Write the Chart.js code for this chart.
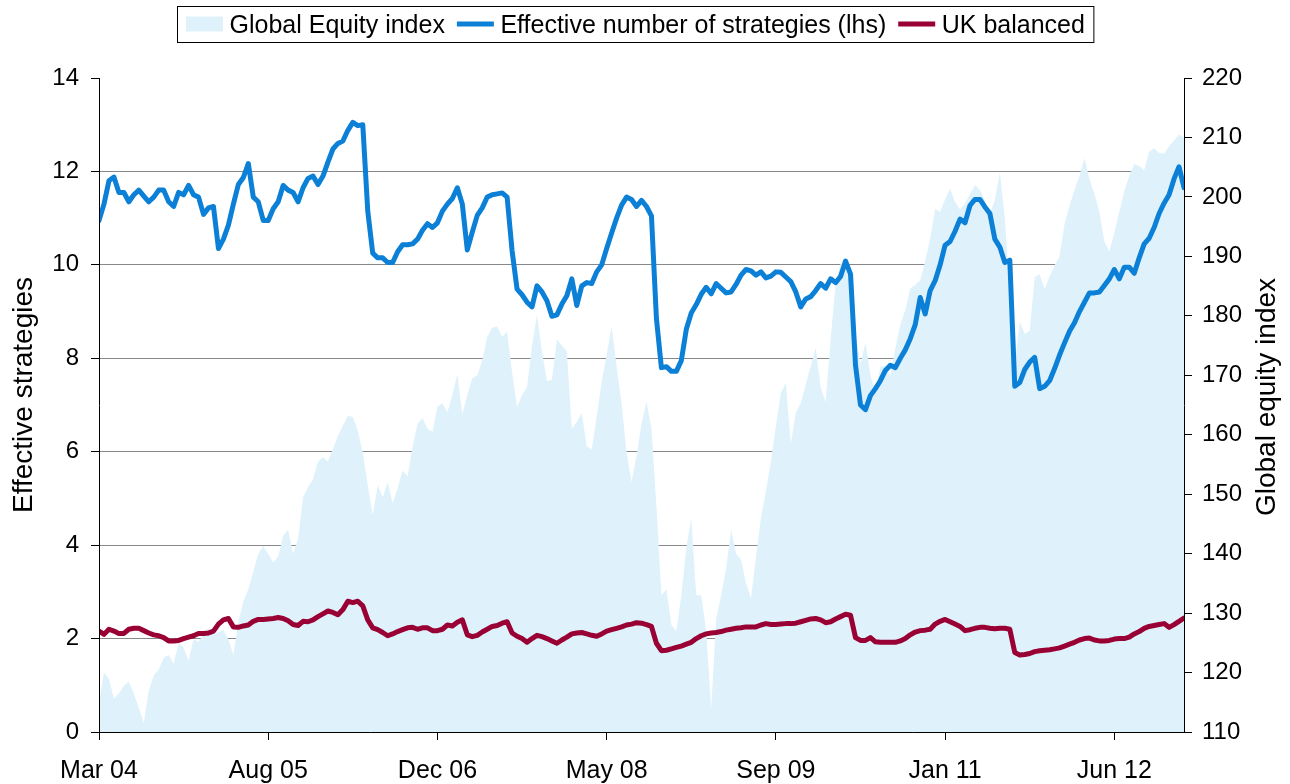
<!DOCTYPE html>
<html><head><meta charset="utf-8">
<script src="https://cdn.jsdelivr.net/npm/chart.js@4.4.1/dist/chart.umd.min.js"></script>
<style>html,body{margin:0;padding:0;background:#fff;} canvas{display:block;}</style>
</head><body>
<canvas id="c" width="1290" height="784"></canvas>
<script>
// ---- data ----
const tickLabels = ['Mar 04','Aug 05','Dec 06','May 08','Sep 09','Jan 11','Jun 12'];
const labelStep = 34; // observations between labelled ticks

const effective = [
10.95,11.3,11.8,11.88,11.55,11.55,11.35,11.5,11.6,11.47,
11.35,11.45,11.6,11.6,11.35,11.25,11.55,11.5,11.7,11.5,
11.45,11.08,11.22,11.25,10.35,10.55,10.85,11.3,11.72,11.87,
12.17,11.45,11.35,10.95,10.95,11.2,11.35,11.7,11.6,11.55,
11.35,11.65,11.85,11.9,11.72,11.9,12.2,12.48,12.6,12.65,
12.88,13.05,12.98,13.0,11.15,10.25,10.15,10.15,10.05,10.05,
10.28,10.43,10.43,10.45,10.55,10.74,10.88,10.8,10.9,11.15,
11.3,11.42,11.65,11.3,10.32,10.7,11.06,11.22,11.45,11.5,
11.52,11.54,11.45,10.3,9.48,9.36,9.2,9.1,9.55,9.42,
9.23,8.9,8.93,9.16,9.34,9.7,9.13,9.55,9.62,9.6,
9.85,10.0,10.35,10.68,11.0,11.28,11.45,11.4,11.25,11.38,
11.25,11.05,8.85,7.8,7.82,7.72,7.72,7.95,8.62,8.97,
9.15,9.37,9.52,9.38,9.6,9.5,9.4,9.42,9.58,9.78,
9.9,9.87,9.78,9.85,9.72,9.76,9.85,9.84,9.74,9.64,
9.42,9.1,9.27,9.32,9.45,9.6,9.5,9.7,9.62,9.75,
10.08,9.8,7.85,7.0,6.9,7.2,7.35,7.52,7.74,7.85,
7.8,8.0,8.18,8.42,8.72,9.3,8.95,9.45,9.66,10.0,
10.42,10.5,10.72,10.98,10.9,11.27,11.4,11.4,11.24,11.1,
10.55,10.38,10.05,10.1,7.4,7.48,7.76,7.92,8.02,7.35,
7.4,7.52,7.78,8.07,8.33,8.58,8.76,9.0,9.2,9.4,
9.4,9.42,9.56,9.7,9.9,9.7,9.95,9.95,9.82,10.15,
10.45,10.57,10.8,11.1,11.32,11.5,11.84,12.1,11.65
];

const ukBalanced = [
2.16,2.09,2.2,2.16,2.11,2.11,2.2,2.22,2.22,2.17,
2.12,2.08,2.06,2.02,1.95,1.95,1.96,2.0,2.03,2.06,
2.11,2.11,2.12,2.16,2.31,2.4,2.43,2.25,2.24,2.27,
2.29,2.37,2.41,2.41,2.42,2.43,2.45,2.43,2.38,2.3,
2.28,2.37,2.36,2.4,2.47,2.53,2.59,2.56,2.51,2.62,
2.8,2.77,2.8,2.7,2.4,2.23,2.19,2.13,2.06,2.1,
2.15,2.19,2.23,2.24,2.2,2.23,2.23,2.17,2.17,2.2,
2.29,2.27,2.35,2.4,2.08,2.04,2.07,2.14,2.2,2.26,
2.28,2.33,2.36,2.12,2.05,2.0,1.92,2.0,2.07,2.04,
2.0,1.95,1.9,1.97,2.03,2.1,2.12,2.13,2.1,2.07,
2.05,2.1,2.16,2.19,2.22,2.25,2.29,2.31,2.34,2.33,
2.3,2.26,1.9,1.74,1.75,1.78,1.81,1.84,1.88,1.92,
2.0,2.06,2.1,2.12,2.13,2.15,2.18,2.2,2.22,2.23,
2.25,2.25,2.25,2.29,2.32,2.3,2.3,2.31,2.32,2.32,
2.33,2.36,2.39,2.42,2.43,2.4,2.34,2.36,2.42,2.47,
2.52,2.5,2.02,1.96,1.96,2.02,1.93,1.92,1.92,1.92,
1.92,1.95,2.0,2.08,2.14,2.17,2.18,2.2,2.31,2.37,
2.41,2.36,2.31,2.26,2.17,2.19,2.22,2.24,2.24,2.22,
2.21,2.22,2.22,2.2,1.7,1.65,1.66,1.68,1.72,1.74,
1.75,1.76,1.78,1.8,1.84,1.88,1.92,1.97,2.0,2.01,
1.97,1.95,1.95,1.96,1.99,2.0,2.0,2.03,2.1,2.15,
2.22,2.26,2.28,2.3,2.32,2.24,2.3,2.37,2.44
];

const globalEquity = [
115,120,119,115.6,116.5,117.8,118.5,116.5,114,111.5,
117,119.5,120.5,122.5,123,121.5,125,124.2,122,125.6,
125.2,126.5,127.5,126.5,126.8,127.1,125.5,123,128.5,132,
134,137,140,141.3,140,138.5,139.5,143,144,140,
142.5,149.5,151.2,152.5,155.5,156.2,155.5,157.6,159.8,161.5,
163.2,163,160.7,157,151.5,146.5,151.5,149.5,152,148.5,
151,154,153,158,161.8,162.8,161,160.5,164.7,165.3,
163.8,166.7,170.2,163.5,166.7,169.5,170,172.5,176.5,178,
178.2,176.5,177.3,170.5,164.7,166.7,168,175,180.2,174,
169,169.3,176,175,174,161,162.2,163.7,158,157.5,
163,169,173.5,178.2,171.5,165.2,157,152,156.5,161.8,
165.6,161,148,133,134,128,127,133,141,146,
133,133,127,114,129,133,137.5,144,140,139,
135,132.5,139.4,146,150.5,155.5,161.5,167,168.8,158.5,
163.7,165.3,168.5,171.5,174.6,168,165.5,176,185.5,188.8,
188.7,186,177,172,175.5,170,167,171.5,171.5,170,
174.5,178.5,181,184.6,185.2,186,189.2,193,198,197.5,
199.6,201.4,199.2,197.9,198.9,200.5,202,201.2,199.4,197.2,
199.5,204.2,196.5,184,172,179,177,177.5,186.5,187,
184.5,186.6,188.5,190,195.5,198.5,201.2,203.5,206.5,203,
200.5,197.5,192.5,190.8,194,197.5,201,203.5,205.5,205.2,
204.5,207.6,208.2,207.4,207.3,208.5,209.5,210.5,210
];

const seriesNames = ['Global Equity index','Effective number of strategies (lhs)','UK balanced'];
const axisTitles = {left:'Effective strategies', right:'Global equity index'};
const colors = {equity:'#DFF2FC', eff:'#0B80D6', uk:'#990033'};

// ---- chart ----
const FONT = "'Liberation Sans', Arial, Helvetica, sans-serif";
Chart.defaults.font.family = FONT;
Chart.defaults.color = '#000';
const toXY = arr => arr.map((v,i)=>({x:i,y:v}));

const overlay = {
  id:'overlay',
  afterDraw(chart){
    const ctx = chart.ctx;
    ctx.save();
    ctx.fillStyle = '#000';
    ctx.font = '28px ' + FONT;
    ctx.textAlign = 'center';
    ctx.textBaseline = 'middle';
    ctx.save(); ctx.translate(24, 395); ctx.rotate(-Math.PI/2); ctx.fillText(axisTitles.left, 0, 0); ctx.restore();
    ctx.save(); ctx.translate(1267, 397); ctx.rotate(-Math.PI/2); ctx.fillText(axisTitles.right, 0, 0); ctx.restore();
    // legend
    ctx.font = '25px ' + FONT;
    ctx.textAlign = 'left';
    ctx.textBaseline = 'alphabetic';
    let x = 186; const cy = 24, sw = 37, gap = 6.5, itemGap = 12;
    chart.data.datasets.forEach(ds => {
      if (ds.fill) { ctx.fillStyle = ds.backgroundColor; ctx.fillRect(x, cy - 7.5, sw, 15); }
      else { ctx.strokeStyle = ds.borderColor; ctx.lineWidth = 5; ctx.beginPath(); ctx.moveTo(x, cy); ctx.lineTo(x + sw, cy); ctx.stroke(); }
      x += sw + gap;
      ctx.fillStyle = '#000';
      ctx.fillText(ds.label, x, 33);
      x += ctx.measureText(ds.label).width + itemGap;
    });
    const right = x - itemGap + 9;
    ctx.strokeStyle = '#000'; ctx.lineWidth = 1;
    ctx.strokeRect(177.5, 6.5, right - 177.5, 36);
    ctx.restore();
  }
};

new Chart(document.getElementById('c'), {
  type: 'line',
  data: {
    datasets: [
      {label: seriesNames[0], data: toXY(globalEquity), yAxisID: 'y1', fill: 'start',
       backgroundColor: colors.equity, borderColor: 'rgba(0,0,0,0)', borderWidth: 0, pointRadius: 0, order: 3},
      {label: seriesNames[1], data: toXY(effective), yAxisID: 'y', fill: false,
       borderColor: colors.eff, backgroundColor: colors.eff, borderWidth: 5, pointRadius: 0, order: 2},
      {label: seriesNames[2], data: toXY(ukBalanced), yAxisID: 'y', fill: false,
       borderColor: colors.uk, backgroundColor: colors.uk, borderWidth: 5, pointRadius: 0, order: 1}
    ]
  },
  options: {
    responsive: false, animation: false, devicePixelRatio: 1,
    layout: {padding: {top: 78, left: 0, right: 0, bottom: 0}},
    plugins: {legend: {display: false}, tooltip: {enabled: false}},
    elements: {line: {tension: 0, borderJoinStyle: 'round', borderCapStyle: 'round'}},
    scales: {
      x: {
        type: 'linear', position: 'bottom', min: 0, max: effective.length - 1,
        afterBuildTicks: s => { s.ticks = tickLabels.map((_, k) => ({value: k * labelStep})); },
        afterFit: s => { s.height = 52; },
        ticks: {callback: v => tickLabels[Math.round(v / labelStep)] ?? '', font: {size: 25}, color: '#000',
                padding: 16, maxRotation: 0, autoSkip: false},
        grid: {drawOnChartArea: false, tickLength: 8, tickColor: '#000'},
        border: {color: '#000', width: 1, z: 1}
      },
      y: {
        position: 'left', min: 0, max: 14,
        afterFit: s => { s.width = 99; },
        ticks: {stepSize: 2, font: {size: 24}, color: '#000', padding: 12},
        grid: {color: c => (c.tick && c.tick.value === 14) ? 'rgba(0,0,0,0)' : '#888', tickColor: '#000', tickLength: 8},
        border: {color: '#000', width: 1, z: 1}
      },
      y1: {
        position: 'right', min: 110, max: 220,
        afterFit: s => { s.width = 106; },
        ticks: {stepSize: 10, font: {size: 24}, color: '#000', padding: 10},
        grid: {drawOnChartArea: false, tickColor: '#000', tickLength: 8},
        border: {color: '#000', width: 1, z: 1}
      }
    }
  },
  plugins: [overlay]
});
</script>
</body></html>
